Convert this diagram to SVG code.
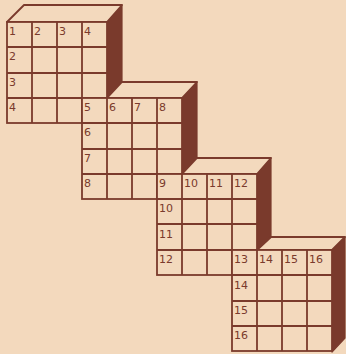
<svg xmlns="http://www.w3.org/2000/svg" width="346" height="354" viewBox="0 0 346 354">
<style>
.bg{fill:#f3d9bd}
.cell{fill:#f3d9bd;stroke:#7a3a2c;stroke-width:1.8}
.top{fill:#f3d9bd;stroke:#7a3a2c;stroke-width:1.8;stroke-linejoin:round}
.side{fill:#7a3a2c;stroke:#7a3a2c;stroke-width:1.2;stroke-linejoin:round}
.ln{stroke:#7a3a2c;stroke-width:1.8;fill:none}
.t{font-family:"DejaVu Sans",sans-serif;font-size:11px;fill:#7a3a2c}
</style>
<rect class="bg" x="0" y="0" width="346" height="354"/>
<g id="block1">
<polygon class="side" points="107,22 122,5 122,106 107,123"/>
<polygon class="top" points="7,22 24,5 122,5 107,22"/>
<rect class="cell" x="7" y="22" width="100" height="101"/>
<path class="ln" d="M32,22V123M57,22V123M82,22V123M7,47H107M7,73H107M7,98H107"/>
<text class="t" x="9" y="35">1</text><text class="t" x="34" y="35">2</text><text class="t" x="59" y="35">3</text><text class="t" x="84" y="35">4</text>
<text class="t" x="9" y="60">2</text><text class="t" x="9" y="86">3</text><text class="t" x="9" y="111">4</text>
</g>
<g id="block2">
<polygon class="side" points="182,98 197,82 197,183 182,199"/>
<polygon class="top" points="107,98 122,82 197,82 182,98"/>
<rect class="cell" x="82" y="98" width="100" height="101"/>
<path class="ln" d="M107,98V199M132,98V199M157,98V199M82,123H182M82,149H182M82,174H182"/>
<text class="t" x="84" y="111">5</text><text class="t" x="109" y="111">6</text><text class="t" x="134" y="111">7</text><text class="t" x="159" y="111">8</text>
<text class="t" x="84" y="136">6</text><text class="t" x="84" y="162">7</text><text class="t" x="84" y="187">8</text>
</g>
<g id="block3">
<polygon class="side" points="257,174 271,158 271,259 257,275"/>
<polygon class="top" points="182,174 197,158 271,158 257,174"/>
<rect class="cell" x="157" y="174" width="100" height="101"/>
<path class="ln" d="M182,174V275M207,174V275M232,174V275M157,199H257M157,224H257M157,250H257"/>
<text class="t" x="159" y="187">9</text><text class="t" x="184" y="187">10</text><text class="t" x="209" y="187">11</text><text class="t" x="234" y="187">12</text>
<text class="t" x="159" y="212">10</text><text class="t" x="159" y="238">11</text><text class="t" x="159" y="263">12</text>
</g>
<g id="block4">
<polygon class="side" points="332,250 345,237 345,338 332,352"/>
<polygon class="top" points="257,250 271,237 345,237 332,250"/>
<rect class="cell" x="232" y="250" width="100" height="101"/>
<path class="ln" d="M257,250V351M282,250V351M307,250V351M232,275H332M232,301H332M232,326H332"/>
<text class="t" x="234" y="263">13</text><text class="t" x="259" y="263">14</text><text class="t" x="284" y="263">15</text><text class="t" x="309" y="263">16</text>
<text class="t" x="234" y="289">14</text><text class="t" x="234" y="314">15</text><text class="t" x="234" y="339">16</text>
</g>
</svg>
